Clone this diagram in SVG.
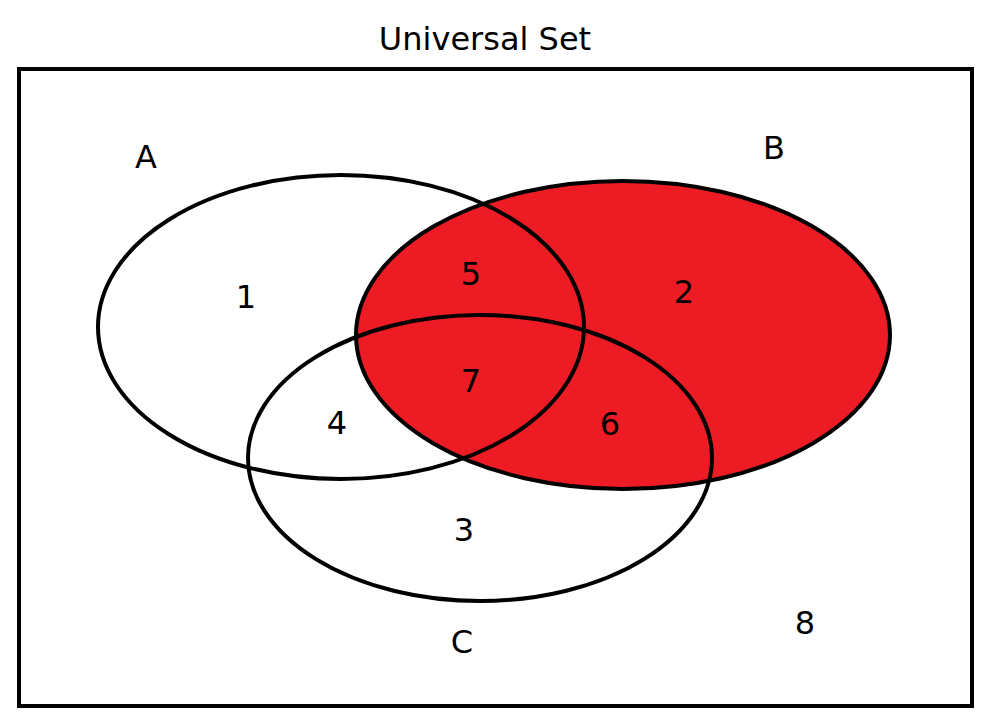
<svg xmlns="http://www.w3.org/2000/svg" width="987" height="718" viewBox="0 0 987 718">
<style>
.o{fill:none;stroke:#000;stroke-width:4}
text{font-family:"DejaVu Sans",sans-serif;font-size:32px;fill:#000;text-anchor:middle}
</style>
<rect width="987" height="718" fill="#fff"/>
<text x="485" y="50" font-size="34">Universal Set</text>
<rect class="o" x="19" y="69" width="953" height="637"/>
<ellipse id="setB-fill" cx="623" cy="335" rx="267" ry="154" fill="#ED1C24"/>
<g id="setA"><ellipse class="o" cx="341" cy="327" rx="243" ry="152"/></g>
<g id="setC"><ellipse class="o" cx="480" cy="458" rx="232" ry="143"/></g>
<g id="setB"><ellipse class="o" cx="623" cy="335" rx="267" ry="154"/></g>
<g id="labels">
<text x="146" y="168">A</text>
<text x="774" y="159">B</text>
<text x="462" y="653">C</text>
<text x="246" y="308">1</text>
<text x="684" y="303">2</text>
<text x="464" y="541">3</text>
<text x="337" y="434">4</text>
<text x="471" y="285">5</text>
<text x="610" y="435">6</text>
<text x="471" y="392">7</text>
<text x="805" y="634">8</text>
</g>
</svg>
